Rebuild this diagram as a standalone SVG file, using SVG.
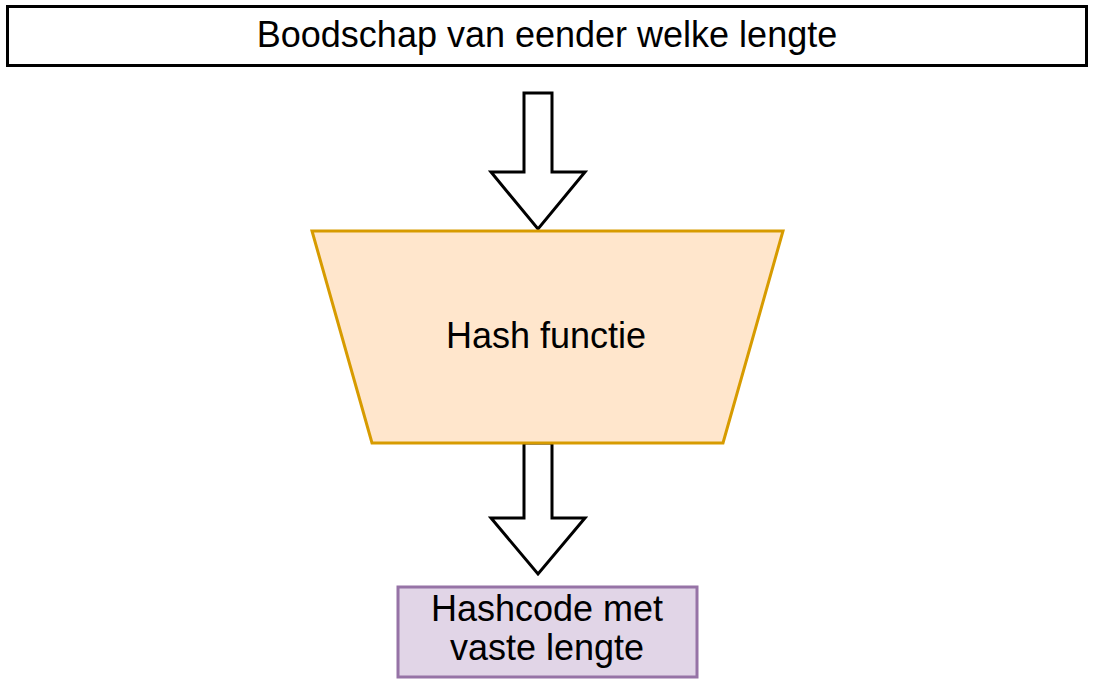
<svg xmlns="http://www.w3.org/2000/svg" width="1095" height="687" viewBox="0 0 1095 687">
<style>
text{font-family:"Liberation Sans",Arial,sans-serif;font-size:36px;fill:#000;text-anchor:middle}
.arrow{fill:#fff;stroke:#000;stroke-width:3;stroke-linejoin:miter}
</style>
<rect width="1095" height="687" fill="#fff"/>
<g id="connectors">
<polygon class="arrow" points="524,93 552,93 552,172 585,172 538,229 491,172 524,172"/>
<polygon class="arrow" points="524,443 552,443 552,518 585,518 538,574 491,518 524,518"/>
</g>
<g id="message">
<rect x="7.5" y="6.5" width="1079" height="59" fill="#fff" stroke="#000" stroke-width="3"/>
<text x="547" y="47">Boodschap van eender welke lengte</text>
</g>
<g id="hash">
<polygon points="312,231 783,231 723,443 372,443" fill="#ffe6cc" stroke="#d79b00" stroke-width="3"/>
<text x="546" y="348">Hash functie</text>
</g>
<g id="hashcode">
<rect x="398" y="587" width="299" height="90" fill="#e1d5e7" stroke="#9673a6" stroke-width="3"/>
<text x="547" y="621">Hashcode met</text>
<text x="547" y="660">vaste lengte</text>
</g>
</svg>
